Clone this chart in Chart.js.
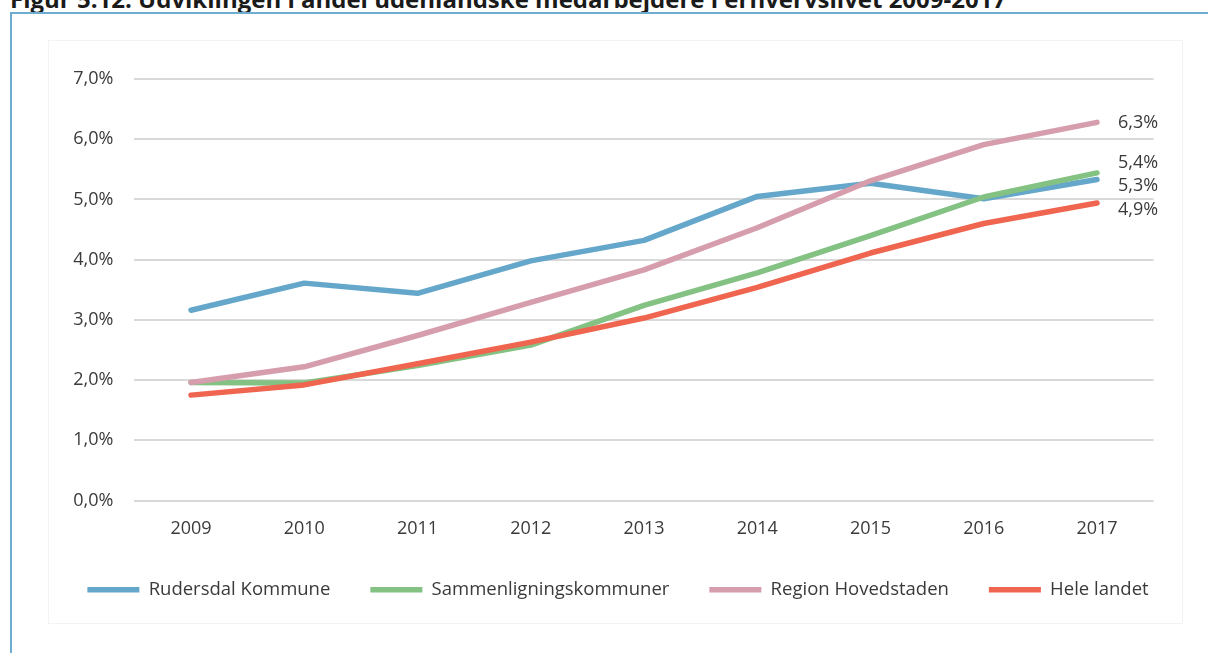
<!DOCTYPE html>
<html>
<head>
<meta charset="utf-8">
<script src="https://cdn.jsdelivr.net/npm/chart.js@4/dist/chart.umd.min.js"></script>
<style>
  html, body { margin: 0; padding: 0; background: #fff; overflow: hidden; }
  body { width: 1208px; height: 653px; position: relative; font-family: "Open Sans", sans-serif; }
  .title { position: absolute; left: 10px; top: -13px; font-size: 24px; line-height: 24px; font-weight: bold; color: #1a1a1a; white-space: nowrap; }
  .frame { position: absolute; left: 10px; top: 12px; width: 1300px; height: 700px; border: 2px solid #6fadd0; }
  .panel { position: absolute; left: 48px; top: 40px; width: 1133px; height: 582px; border: 1px solid #f3f3f3; }
  #wrap { position: absolute; left: 0; top: 0; width: 1260px; height: 653px; }
</style>
</head>
<body>
<div class="title">Figur 5.12: Udviklingen i andel udenlandske medarbejdere i erhvervslivet 2009-2017</div>
<div class="frame"></div>
<div class="panel"></div>
<div id="wrap"><canvas id="chart"></canvas></div>
<script>
// Data
const years = ['2009', '2010', '2011', '2012', '2013', '2014', '2015', '2016', '2017'];
const rudersdal = [3.16, 3.61, 3.44, 3.98, 4.32, 5.05, 5.27, 5.01, 5.33];
const sammenligning = [1.96, 1.95, 2.24, 2.58, 3.24, 3.78, 4.40, 5.04, 5.44];
const region = [1.96, 2.22, 2.74, 3.29, 3.83, 4.53, 5.31, 5.91, 6.28];
const heleLandet = [1.75, 1.92, 2.27, 2.63, 3.03, 3.54, 4.11, 4.60, 4.94];
const yTicks = [0, 1, 2, 3, 4, 5, 6, 7];

const textColor = '#3a3a3a';

function pct(v) {
  return v.toFixed(1).replace('.', ',') + '%';
}

// Etiketter ved linjernes ende
const endLabels = {
  id: 'endLabels',
  afterDatasetsDraw(chart) {
    const ctx = chart.ctx;
    const items = [];
    chart.data.datasets.forEach((ds, i) => {
      const meta = chart.getDatasetMeta(i);
      const pt = meta.data[meta.data.length - 1];
      items.push({ x: pt.x, y: pt.y, text: pct(ds.data[ds.data.length - 1]) });
    });
    items.sort((a, b) => a.y - b.y);
    // grupper labels der overlapper, centrer gruppen
    const gap = 23.5;
    let groups = items.map(it => ({ items: [it], y: it.y }));
    let merged = true;
    while (merged) {
      merged = false;
      for (let i = 0; i < groups.length - 1; i++) {
        const a = groups[i], b = groups[i + 1];
        const aEnd = a.y + (a.items.length - 1) * gap / 2;
        const bStart = b.y - (b.items.length - 1) * gap / 2;
        if (bStart - aEnd < gap) {
          const all = a.items.concat(b.items);
          const mean = all.reduce((s, it) => s + it.y, 0) / all.length;
          groups.splice(i, 2, { items: all, y: mean });
          merged = true;
          break;
        }
      }
    }
    ctx.save();
    ctx.font = '18px "Open Sans"';
    ctx.fillStyle = textColor;
    ctx.textAlign = 'left';
    ctx.textBaseline = 'middle';
    groups.forEach(g => {
      const start = g.y - (g.items.length - 1) * gap / 2;
      g.items.forEach((it, k) => {
        ctx.fillText(it.text, it.x + 21, start + k * gap + 1);
      });
    });
    ctx.restore();
  }
};

document.addEventListener('DOMContentLoaded', function() {
  const ctx = document.getElementById('chart').getContext('2d');
  const common = {
    borderWidth: 5.5,
    pointRadius: 0,
    pointHoverRadius: 0,
    tension: 0,
    borderCapStyle: 'round',
    borderJoinStyle: 'round',
    fill: false
  };
  new Chart(ctx, {
    type: 'line',
    data: {
      labels: years,
      datasets: [{
        label: 'Rudersdal Kommune',
        data: rudersdal,
        borderColor: '#64a7ca',
        backgroundColor: '#64a7ca',
        order: 3,
        ...common
      }, {
        label: 'Sammenligningskommuner',
        data: sammenligning,
        borderColor: '#83c283',
        backgroundColor: '#83c283',
        order: 2,
        ...common
      }, {
        label: 'Region Hovedstaden',
        data: region,
        borderColor: '#d69dad',
        backgroundColor: '#d69dad',
        order: 1,
        ...common
      }, {
        label: 'Hele landet',
        data: heleLandet,
        borderColor: '#ef6550',
        backgroundColor: '#ef6550',
        order: 0,
        ...common
      }]
    },
    options: {
      responsive: true,
      maintainAspectRatio: false,
      animation: false,
      layout: {
        padding: { left: 20, right: 44, top: 79, bottom: 44 }
      },
      plugins: {
        tooltip: { enabled: false },
        legend: {
          position: 'bottom',
          labels: {
            usePointStyle: true,
            pointStyle: 'line',
            pointStyleWidth: 52,
            padding: 40,
            color: textColor,
            font: { family: 'Open Sans', size: 18.5 },
            sort: (a, b) => a.datasetIndex - b.datasetIndex
          }
        }
      },
      scales: {
        x: {
          offset: true,
          afterFit: axis => { axis.height = 40; },
          grid: { display: false, drawTicks: false },
          border: { display: false },
          ticks: {
            color: textColor,
            padding: 18,
            font: { family: 'Open Sans', size: 18 }
          }
        },
        y: {
          min: 0,
          max: 7,
          afterBuildTicks: axis => { axis.ticks = yTicks.map(v => ({ value: v })); },
          afterFit: axis => { axis.width = 114.4; },
          grid: { color: '#d9d9d9', lineWidth: 2, drawTicks: false },
          border: { display: false },
          ticks: {
            color: textColor,
            padding: 21,
            font: { family: 'Open Sans', size: 18 },
            callback: v => pct(v)
          }
        },
        // usynlig akse i højre side, giver plads til slutetiketterne
        yRight: {
          type: 'linear',
          position: 'right',
          display: true,
          grid: { display: false, drawTicks: false },
          border: { display: false },
          ticks: { display: false },
          afterFit: axis => { axis.width = 62.4; }
        }
      }
    },
    plugins: [endLabels]
  });
});
</script>
</body>
</html>
